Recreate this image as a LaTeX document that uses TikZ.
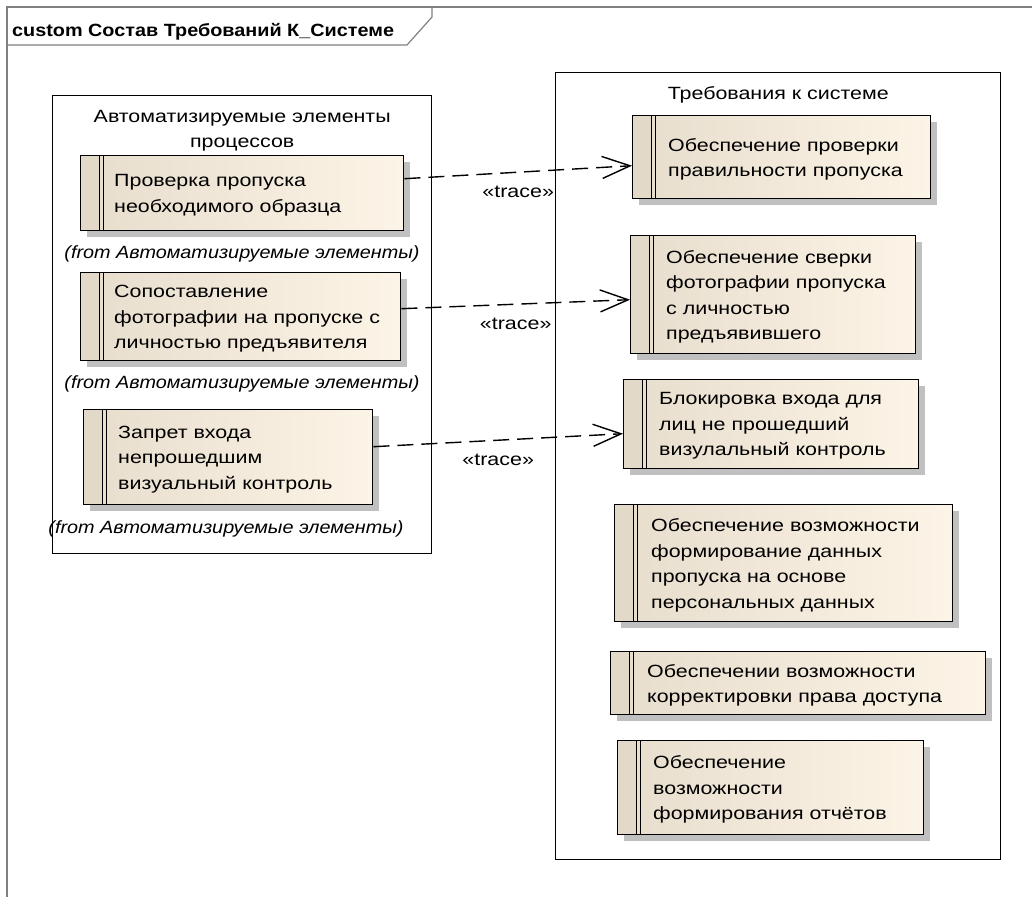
\documentclass[tikz,border=0pt]{standalone}
\usepackage{fontspec}
\setmainfont{Liberation Sans}[FakeStretch=1.21,
  ItalicFeatures={FakeStretch=1.12}, BoldFeatures={FakeStretch=1.12}]
\usetikzlibrary{positioning,arrows.meta,shadows}
\definecolor{itemleft}{RGB}{231,221,205}
\definecolor{itemright}{RGB}{252,244,230}
\definecolor{stripefill}{RGB}{226,217,201}
\definecolor{framegray}{RGB}{128,128,128}
\definecolor{shadowgray}{RGB}{192,192,192}

\begin{document}
\begin{tikzpicture}[
  x=1pt, y=-1pt,
  font=\fontsize{17.7}{25.5}\selectfont,
  itembox/.style={draw=black, line width=1.4pt, anchor=north west,
    left color=itemleft, right color=itemright,
    drop shadow={shadow xshift=6pt, shadow yshift=-6pt, fill=shadowgray, opacity=1},
    path picture={
      \fill[stripefill] (path picture bounding box.north west) rectangle ([xshift=19pt]path picture bounding box.south west);
      \draw[line width=1.4pt] ([xshift=19pt]path picture bounding box.north west) -- ([xshift=19pt]path picture bounding box.south west);
      \draw[line width=1.4pt] ([xshift=23pt]path picture bounding box.north west) -- ([xshift=23pt]path picture bounding box.south west);
    }},
  itemtext/.style={anchor=west, align=left, inner sep=0pt},
  fromnote/.style={font=\fontsize{17.7}{20}\selectfont\itshape, inner sep=0pt},
  pkgbox/.style={draw=black, line width=1.4pt, anchor=north west},
  pkgtitle/.style={anchor=north, align=center, inner sep=0pt},
  tracelink/.style={line width=1.4pt, dash pattern=on 16pt off 8pt,
    -{Straight Barb[length=28pt, width=22pt, line width=1.4pt]}},
  tracelabel/.style={midway, below=13pt, inner sep=0pt},
]
\useasboundingbox (0,0) rectangle (1032,897);

% diagram frame and its tab
\draw[framegray, line width=1.2pt] (1032,7) -- (7,7) -- (7,897);
\draw[framegray, line width=1.2pt] (7,45) -- (407,45) -- (432,17) -- (432,7);
\node[anchor=west, inner sep=0pt, font=\fontsize{17.7}{20}\selectfont\bfseries] (title) at (12,32)
  {custom Состав Требований К\_Системе};

% packages
\node[pkgbox, minimum width=379pt, minimum height=458pt] (auto) at (52,95) {};
\node[pkgtitle] (autot) at ([yshift=-15pt]auto.north) {Автоматизируемые элементы\\процессов};
\node[pkgbox, minimum width=445pt, minimum height=787pt] (reqs) at (555,72) {};
\node[pkgtitle] (reqst) at ([yshift=-14pt]reqs.north) {Требования к системе};

% process elements
\node[itembox, minimum width=323pt, minimum height=75pt] (a1) at (80,155) {};
\node[itemtext] (a1t) at ([xshift=34pt, yshift=-2pt]a1.west) {Проверка пропуска\\необходимого образца};
\node[fromnote] (a1f) at (242,254) {(from Автоматизируемые элементы)};

\node[itembox, minimum width=320pt, minimum height=88pt] (a2) at (80,272) {};
\node[itemtext] (a2t) at ([xshift=34pt, yshift=-2pt]a2.west) {Сопоставление\\фотографии на пропуске с\\личностью предъявителя};
\node[fromnote] (a2f) at (242,384) {(from Автоматизируемые элементы)};

\node[itembox, minimum width=289pt, minimum height=95pt] (a3) at (83,409) {};
\node[itemtext] (a3t) at ([xshift=35pt, yshift=-2pt]a3.west) {Запрет входа\\непрошедшим\\визуальный контроль};
\node[fromnote] (a3f) at (226,529) {(from Автоматизируемые элементы)};

% requirements
\node[itembox, minimum width=298pt, minimum height=83pt] (r1) at (632,115) {};
\node[itemtext] (r1t) at ([xshift=36pt, yshift=-2pt]r1.west) {Обеспечение проверки\\правильности пропуска};

\node[itembox, minimum width=285pt, minimum height=118pt] (r2) at (630,235) {};
\node[itemtext] (r2t) at ([xshift=36pt, yshift=-2pt]r2.west) {Обеспечение сверки\\фотографии пропуска\\с личностью\\предъявившего};

\node[itembox, minimum width=295pt, minimum height=89pt] (r3) at (623,379) {};
\node[itemtext] (r3t) at ([xshift=36pt, yshift=-2pt]r3.west) {Блокировка входа для\\лиц не прошедший\\визулальный контроль};

\node[itembox, minimum width=338pt, minimum height=117pt] (r4) at (614,504) {};
\node[itemtext] (r4t) at ([xshift=37pt, yshift=-2pt]r4.west) {Обеспечение возможности\\формирование данных\\пропуска на основе\\персональных данных};

\node[itembox, minimum width=375pt, minimum height=63pt] (r5) at (610,651) {};
\node[itemtext] (r5t) at ([xshift=37pt, yshift=-2pt]r5.west) {Обеспечении возможности\\корректировки права доступа};

\node[itembox, minimum width=306pt, minimum height=94pt] (r6) at (617,740) {};
\node[itemtext] (r6t) at ([xshift=36pt, yshift=-2pt]r6.west) {Обеспечение\\возможности\\формирования отчётов};

% trace links
\draw[tracelink] ([yshift=14.5pt]a1.east) -- ([yshift=-8.5pt]r1.west) node[tracelabel] (tr1) {«trace»};
\draw[tracelink] ([yshift=8pt]a2.east) -- ([yshift=-5pt]r2.west) node[tracelabel] (tr2) {«trace»};
\draw[tracelink] ([yshift=10.5pt]a3.east) -- ([yshift=-9.5pt]r3.west) node[tracelabel] (tr3) {«trace»};
\end{tikzpicture}
\end{document}
